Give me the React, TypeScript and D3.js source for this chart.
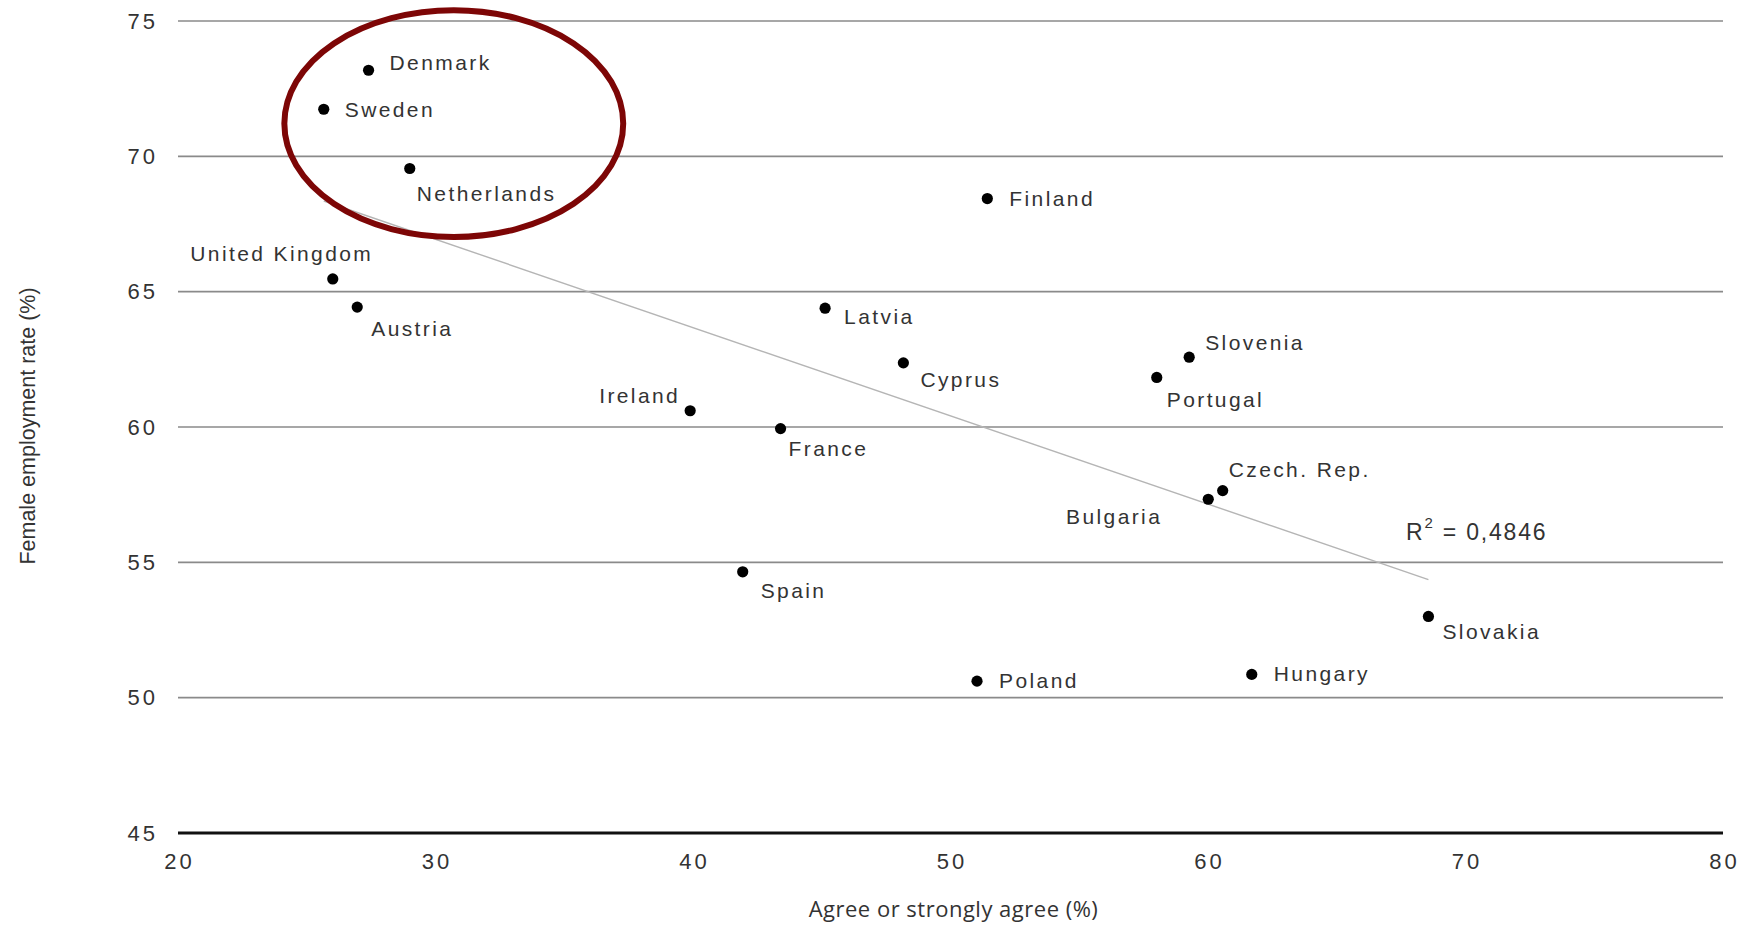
import React from "react";
import * as d3 from "d3";

// ---- Data ----
const countries = [
  "Denmark", "Sweden", "Netherlands", "Finland", "United Kingdom", "Austria",
  "Latvia", "Cyprus", "Slovenia", "Portugal", "Ireland", "France",
  "Czech. Rep.", "Bulgaria", "Spain", "Slovakia", "Poland", "Hungary",
];
const agreeShare = [
  27.4, 25.66, 29.0, 51.43, 26.01, 26.96,
  45.13, 48.17, 59.27, 58.01, 39.89, 43.4,
  60.57, 60.01, 41.93, 68.56, 51.03, 61.7,
];
const femaleEmployment = [
  73.18, 71.74, 69.55, 68.44, 65.47, 64.43,
  64.39, 62.37, 62.58, 61.83, 60.6, 59.94,
  57.65, 57.33, 54.65, 53.0, 50.61, 50.86,
];
const xTicks = [20, 30, 40, 50, 60, 70, 80];
const yTicks = [45, 50, 55, 60, 65, 70, 75];
const trendX = [25.66, 68.56];
const trendY = [68.35, 54.36];
const rSquaredText = "0,4846";
const xTitle = "Agree or strongly agree (%)";
const yTitle = "Female employment rate (%)";

// ---- Layout (positions / styles, separate from data) ----
const W = 1751;
const H = 926;
const X0 = 178, X1 = 1723;
const Y0 = 833, Y1 = 21;

type Off = { dx: number; dy: number; anchor: "start" | "middle" | "end" };
const labelOffsets: Record<string, Off> = {
  "Denmark": { dx: 21, dy: -8, anchor: "start" },
  "Sweden": { dx: 21, dy: 0, anchor: "start" },
  "Netherlands": { dx: 7, dy: 25, anchor: "start" },
  "Finland": { dx: 22, dy: 0, anchor: "start" },
  "United Kingdom": { dx: -51, dy: -25, anchor: "middle" },
  "Austria": { dx: 14, dy: 21, anchor: "start" },
  "Latvia": { dx: 19, dy: 8, anchor: "start" },
  "Cyprus": { dx: 17, dy: 17, anchor: "start" },
  "Slovenia": { dx: 16, dy: -15, anchor: "start" },
  "Portugal": { dx: 10, dy: 22, anchor: "start" },
  "Ireland": { dx: -10, dy: -15, anchor: "end" },
  "France": { dx: 8, dy: 20, anchor: "start" },
  "Czech. Rep.": { dx: 6, dy: -21, anchor: "start" },
  "Bulgaria": { dx: -46, dy: 17, anchor: "end" },
  "Spain": { dx: 18, dy: 19, anchor: "start" },
  "Slovakia": { dx: 14, dy: 15, anchor: "start" },
  "Poland": { dx: 22, dy: -1, anchor: "start" },
  "Hungary": { dx: 22, dy: -1, anchor: "start" },
};

const ellipseCenter = { x: 30.71, y: 71.21 };
const ellipseRadii = { x: 6.58, y: 4.19 };
const r2Pos = { x: 67.69, y: 56.12 };

const labelFont = "'Liberation Sans', Arial, sans-serif";
const condFont = "'Open Sans', 'Liberation Sans', sans-serif";
const textColor = "#333";
const tickSpacing = 3;
const labelSpacing = 2.4;

export default function App() {
  const x = d3.scaleLinear().domain([20, 80]).range([X0, X1]);
  const y = d3.scaleLinear().domain([45, 75]).range([Y0, Y1]);

  const trendLine = d3
    .line<number>()
    .x((_, i) => x(trendX[i]))
    .y((d) => y(d));

  const pts = countries.map((c, i) => ({ c, vx: agreeShare[i], vy: femaleEmployment[i] }));

  return (
    <svg
      width={W}
      height={H}
      style={{ position: "absolute", left: 0, top: 0, background: "#fff" }}
    >
      {/* gridlines */}
      {yTicks.filter((t) => t !== 45).map((t) => (
        <line key={t} x1={x(20)} x2={x(80)} y1={y(t)} y2={y(t)} stroke="#8a8a8a" strokeWidth={1.6} />
      ))}
      {/* baseline */}
      <line x1={x(20)} x2={x(80)} y1={y(45)} y2={y(45)} stroke="#111" strokeWidth={3.2} />

      {/* y tick labels */}
      {yTicks.map((t) => (
        <text
          key={t}
          x={X0 - 23 + tickSpacing}
          y={y(t)}
          textAnchor="end"
          dominantBaseline="central"
          fontFamily={labelFont}
          fontSize={22}
          letterSpacing={tickSpacing}
          fill={textColor}
        >
          {t}
        </text>
      ))}

      {/* x tick labels */}
      {xTicks.map((t) => (
        <text
          key={t}
          x={x(t) + tickSpacing / 2}
          y={861}
          textAnchor="middle"
          dominantBaseline="central"
          fontFamily={labelFont}
          fontSize={22}
          letterSpacing={tickSpacing}
          fill={textColor}
        >
          {t}
        </text>
      ))}

      {/* axis titles */}
      <text
        x={(X0 + X1) / 2 + 3}
        y={908}
        textAnchor="middle"
        dominantBaseline="central"
        fontFamily={condFont}
        fontSize={22}
        letterSpacing={0.5}
        fill={textColor}
      >
        {xTitle}
      </text>
      <text
        transform={`translate(28, ${426}) rotate(-90)`}
        textAnchor="middle"
        dominantBaseline="central"
        fontFamily={labelFont}
        fontSize={21.5}
        fill={textColor}
      >
        {yTitle}
      </text>

      {/* trend line */}
      <path d={trendLine(trendY) || ""} fill="none" stroke="#b5b5b5" strokeWidth={1.4} />

      {/* points */}
      {pts.map((p) => (
        <circle key={p.c} cx={x(p.vx)} cy={y(p.vy)} r={5.6} fill="#000" />
      ))}

      {/* labels */}
      {pts.map((p) => {
        const o = labelOffsets[p.c];
        return (
          <text
            key={p.c + "-l"}
            x={x(p.vx) + o.dx}
            y={y(p.vy) + o.dy}
            textAnchor={o.anchor}
            dominantBaseline="central"
            fontFamily={labelFont}
            fontSize={21}
            letterSpacing={labelSpacing}
            fill={textColor}
          >
            {p.c}
          </text>
        );
      })}

      {/* R squared */}
      <text
        x={x(r2Pos.x)}
        y={y(r2Pos.y)}
        dominantBaseline="central"
        fontFamily={labelFont}
        fontSize={23}
        letterSpacing={1.8}
        fill={textColor}
      >
        R
        <tspan fontSize={15} dy={-10}>2</tspan>
        <tspan dy={10}>{" = " + rSquaredText}</tspan>
      </text>

      {/* highlight ellipse */}
      <ellipse
        cx={x(ellipseCenter.x)}
        cy={y(ellipseCenter.y)}
        rx={x(ellipseCenter.x + ellipseRadii.x) - x(ellipseCenter.x)}
        ry={y(ellipseCenter.y - ellipseRadii.y) - y(ellipseCenter.y)}
        fill="none"
        stroke="#7d0606"
        strokeWidth={6}
      />
    </svg>
  );
}
